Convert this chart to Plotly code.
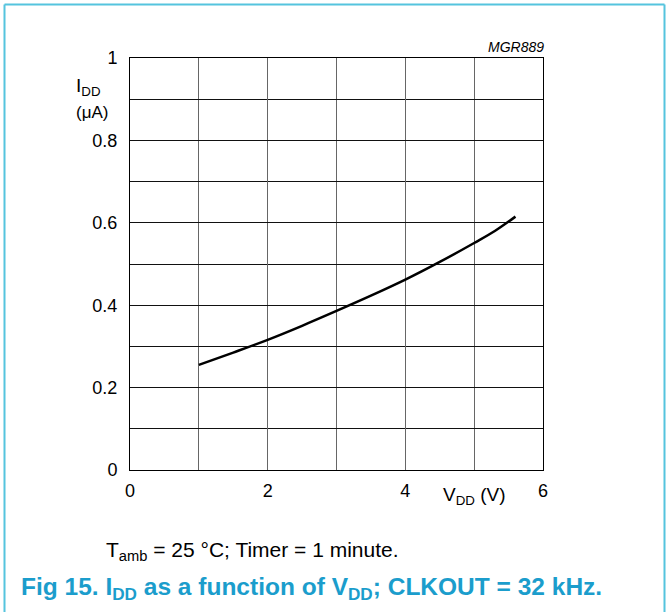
import plotly.graph_objects as go

# Data
vdd = [1.0, 1.5, 2.0, 2.5, 3.0, 3.5, 4.0, 4.5, 5.0, 5.3, 5.6]
idd = [0.255, 0.285, 0.316, 0.350, 0.386, 0.423, 0.462, 0.505, 0.551, 0.580, 0.615]

x_ticks = [0, 2, 4, 6]
x_labels = ["0", "2", "4", "6"]
y_ticks = [0, 0.2, 0.4, 0.6, 0.8, 1.0]
y_labels = ["0", "0.2", "0.4", "0.6", "0.8", "1"]

W, H = 668, 612
L, R, T, B = 130, 125, 58, 142
pw, ph = W - L - R, H - T - B

def px(xp):
    return (xp - L) / pw

def py(yp):
    return (H - B - yp) / ph

FONT = "Liberation Sans, Arial, sans-serif"
BLUE = "#1b9dcc"
BORDER = "#55c4de"

fig = go.Figure()
fig.add_trace(go.Scatter(x=vdd, y=idd, mode="lines", line=dict(color="black", width=2.5, shape="spline"),
                         showlegend=False, hoverinfo="skip"))

fig.update_layout(
    width=W, height=H,
    margin=dict(l=L, r=R, t=T, b=B, pad=0),
    paper_bgcolor="white", plot_bgcolor="white",
    font=dict(family=FONT, size=18, color="black"),
    xaxis=dict(range=[0, 6], tickvals=x_ticks, ticktext=x_labels, showgrid=True,
               gridcolor="#666666", gridwidth=1, zeroline=False, showline=True, linecolor="black",
               linewidth=1, mirror=True, ticks="", ticklen=0, tickfont=dict(size=18),
               ticklabelstandoff=4,
               minor=dict(dtick=1, tick0=0, showgrid=True, gridcolor="#666666", gridwidth=1, ticks="")),
    yaxis=dict(range=[0, 1], tickvals=y_ticks, ticktext=y_labels, showgrid=True,
               gridcolor="#111111", gridwidth=1, zeroline=False, showline=True, linecolor="black",
               linewidth=1, mirror=True, ticks="", ticklen=0, tickfont=dict(size=18),
               ticklabelstandoff=8,
               minor=dict(dtick=0.1, tick0=0, showgrid=True, gridcolor="#111111", gridwidth=1, ticks="")),
    shapes=[
        dict(type="line", xref="paper", yref="paper", x0=px(4.5), x1=px(664.5), y0=py(4.5), y1=py(4.5),
             line=dict(color=BORDER, width=2)),
        dict(type="line", xref="paper", yref="paper", x0=px(4.5), x1=px(4.5), y0=py(4.5), y1=py(640),
             line=dict(color=BORDER, width=2)),
        dict(type="line", xref="paper", yref="paper", x0=px(664.5), x1=px(664.5), y0=py(4.5), y1=py(640),
             line=dict(color=BORDER, width=2)),
    ],
    annotations=[
        dict(text="<i>MGR889</i>", xref="paper", yref="paper", x=px(546), y=py(47), xanchor="right",
             yanchor="middle", showarrow=False, font=dict(size=14)),
        dict(text="I<sub>DD</sub>", xref="paper", yref="paper", x=px(74), y=py(87), xanchor="left",
             yanchor="middle", showarrow=False, font=dict(size=19)),
        dict(text="(μA)", xref="paper", yref="paper", x=px(74), y=py(112), xanchor="left",
             yanchor="middle", showarrow=False, font=dict(size=17)),
        dict(text="V<sub>DD</sub> (V)", xref="paper", yref="paper", x=px(441), y=py(496), xanchor="left",
             yanchor="middle", showarrow=False, font=dict(size=19)),
        dict(text="T<sub>amb</sub> = 25 °C; Timer = 1 minute.", xref="paper", yref="paper", x=px(104),
             y=py(551), xanchor="left", yanchor="middle", showarrow=False, font=dict(size=21)),
        dict(text="<b>Fig 15. I<sub>DD</sub> as a function of V<sub>DD</sub>; CLKOUT = 32 kHz.</b>",
             xref="paper", yref="paper", x=px(19), y=py(588), xanchor="left", yanchor="middle",
             showarrow=False, font=dict(size=24.5, color=BLUE)),
    ],
)

fig.write_html("out.html", config={"displayModeBar": False},
               post_script="document.body.style.margin='0';document.body.style.overflow='hidden';")
